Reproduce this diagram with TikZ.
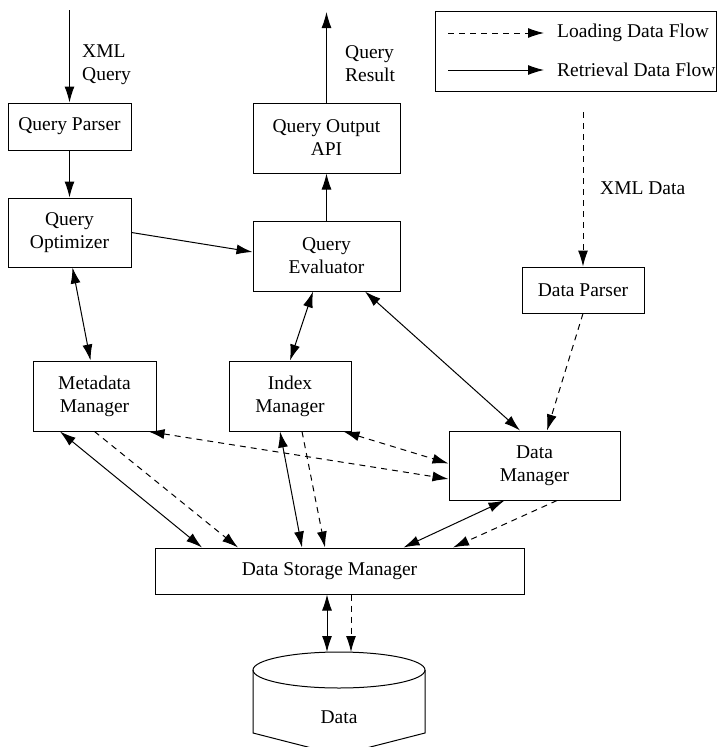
\documentclass[tikz,border=0pt]{standalone}
\usepackage{fontspec}
\setmainfont{Liberation Serif}
\usetikzlibrary{arrows.meta}

\begin{document}
\begin{tikzpicture}[x=1pt, y=-1pt,
>={Latex[length=16pt,width=10pt]},
% common options for boxes:
box/.style = {draw, align=center, inner sep=0, line width=1pt,
            font=\fontsize{19.5}{23}\selectfont},
% common options for free texts:
lbl/.style = {align=left, inner sep=0, font=\fontsize{19.5}{23}\selectfont},
% the two kinds of flow:
load/.style = {dash pattern=on 6pt off 5pt, line width=1pt},
fetch/.style = {line width=1pt}]
\useasboundingbox (0,0) rectangle (717,747);

% legend
\node[draw,line width=1pt,minimum width=281,minimum height=80,inner sep=0] (L0) at (575.5,51) {};
\node[lbl,anchor=west] (L1) at (557,33) {Loading Data Flow};
\node[lbl,anchor=west] (L2) at (557,70) {Retrieval Data Flow};
\coordinate (l1) at (448,33);
\coordinate (l2) at (448,70);
\draw[load,->] (l1) -- ([xshift=-13pt]L1.west);
\draw[fetch,->] (l2) -- ([xshift=-13pt]L2.west);

% query side
\node[box,minimum width=123,minimum height=47] (Q1) at (69.5,126.5) {Query Parser};
\node[box,minimum width=123,minimum height=69] (Q2) at (69.5,232.5) {Query\\Optimizer};
\node[box,minimum width=147,minimum height=70] (Q3) at (326.5,256) {Query\\Evaluator};
\node[box,minimum width=147,minimum height=70] (Q4) at (326.5,138) {Query Output\\API};

\node[lbl,anchor=north west] (T1) at (82,45) {XML\\Query};
\node[lbl,anchor=north west] (T2) at (345,45) {Query\\Result};
\node[lbl,anchor=north west] (T3) at (600,182) {XML Data};

% managers
\node[box,minimum width=123,minimum height=70] (M1) at (94.5,396) {Metadata\\Manager};
\node[box,minimum width=122,minimum height=70] (I1) at (290,396) {Index\\Manager};
\node[box,minimum width=122,minimum height=46] (D1) at (583,290) {Data Parser};
\node[box,minimum width=171,minimum height=69] (D2) at (534.5,465.5) {Data\\Manager};
\node[box,minimum width=369,minimum height=46] (S1) at (339.5,571) {Data Storage Manager\hspace*{20pt}};

% the data store
\draw[line width=1pt] (339,670) ellipse [x radius=86, y radius=18];
\draw[line width=1pt] (253,670) -- (253,733) -- (339,755) -- (425,733) -- (425,670);
\node[lbl] (S2) at (339,717) {Data};
\coordinate (S2top) at (339,652);

\coordinate (xq) at (69.5,10);
\coordinate (qr) at (326.5,12);
\coordinate (xd) at (583,112);

% retrieval flow
\draw[fetch,->] (xq) -- (Q1.north);
\draw[fetch,->] (Q1.south) -- (Q2.north);
\draw[fetch,->] (Q2.east) -- ([yshift=4pt]Q3.west);
\draw[fetch,->] (Q3.north) -- (Q4.south);
\draw[fetch,->] (Q4.north) -- (qr);
\draw[fetch,<->] ([xshift=3pt]Q2.south) -- ([xshift=-4pt]M1.north);
\draw[fetch,<->] ([xshift=-13.5pt]Q3.south) -- (I1.north);
\draw[fetch,<->] ([xshift=38.5pt]Q3.south) -- ([xshift=-14.5pt]D2.north);
\draw[fetch,<->] ([xshift=-34.5pt]M1.south) -- ([xshift=-137.5pt]S1.north);
\draw[fetch,<->] ([xshift=-10pt]I1.south) -- ([xshift=-37.5pt]S1.north);
\draw[fetch,<->] ([xshift=-30pt]D2.south) -- ([xshift=64pt]S1.north);
\draw[fetch,<->] ([xshift=-12.5pt]S1.south) -- ([xshift=-12pt]S2top);

% loading flow
\draw[load,->] (xd) -- (D1.north);
\draw[load,->] (D1.south) -- ([xshift=12.5pt]D2.north);
\draw[load,->] (M1.south) -- ([xshift=-101.5pt]S1.north);
\draw[load,->] ([xshift=12pt]I1.south) -- ([xshift=-14.5pt]S1.north);
\draw[load,->] ([xshift=22.5pt]D2.south) -- ([xshift=113.5pt]S1.north);
\draw[load,<->] ([xshift=-8pt]M1.south east) -- ([yshift=-13.5pt]D2.west);
\draw[load,<->] ([xshift=-8pt]I1.south east) -- ([yshift=2pt]D2.west);
\draw[load,->] ([xshift=11.5pt]S1.south) -- ([xshift=12pt]S2top);
\end{tikzpicture}
\end{document}
